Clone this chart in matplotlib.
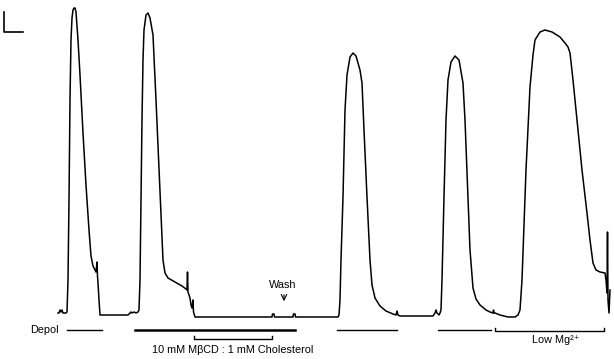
import numpy as np
import matplotlib.pyplot as plt

plt.rcParams['font.family'] = ['Liberation Sans', 'DejaVu Sans']

# ------------------------------------------------------------
# Trace: (time px, signal px from top)
# ------------------------------------------------------------
resp_depol1 = [
    (58, 313), (59, 313), (60, 310), (61, 312), (62, 310), (63, 313), (66, 313), (67, 312),
    (68, 280), (69, 200), (70, 100), (71, 40), (72, 18), (73, 10), (74, 8), (75, 8), (76, 12),
    (78, 40), (80, 75), (83, 133), (86, 185), (89, 230), (91, 256), (93, 266), (95, 270),
    (96, 272), (97, 262), (97.5, 276), (98, 283), (99, 300), (100, 315),
]
resp_depol_mbcd = [
    (128, 315), (130, 313), (131, 312), (132, 313), (134, 312), (136, 313), (138, 312), (139, 310),
    (140, 280), (141, 200), (142, 120), (143, 60), (144, 30), (146, 15), (148, 13), (150, 18),
    (153, 35), (156, 100), (160, 190), (163, 260), (165, 273), (168, 278), (175, 282), (182, 286),
    (186, 289), (187, 290), (187.5, 272), (188, 292), (190, 298), (191, 305), (192, 308),
    (193, 300), (193.5, 312), (195, 317),
]
resp_wash = [
    (272, 317), (272.5, 314), (274, 314), (274.5, 317), (293, 317), (293.5, 314), (295, 314),
    (295.5, 317), (338, 317), (339, 315),
    (340, 300), (341, 260), (343, 197), (345, 110), (347, 75), (350, 57), (353, 53), (356, 56),
    (360, 70), (362, 83), (364, 130), (367, 197), (370, 260), (372, 285), (375, 298), (380, 306),
    (386, 311), (393, 314), (396, 315), (397, 311), (398, 315), (400, 316),
]
resp_depol3 = [
    (433, 316), (435, 313), (436, 310), (437, 313), (439, 315), (440, 313), (441, 310),
    (442, 280), (444, 197), (446, 120), (448, 80), (451, 62), (455, 56), (459, 60), (463, 83),
    (465, 120), (468, 197), (470, 250), (473, 288), (476, 299), (480, 305), (486, 310),
    (490, 312), (493, 313), (493.5, 310), (494, 313), (495, 313),
]
resp_lowmg = [
    (500, 315), (508, 317), (515, 317), (518, 315), (520, 310), (522, 280), (523, 253),
    (526, 170), (530, 87), (533, 55), (535, 40), (540, 32), (545, 30), (552, 32), (560, 37),
    (565, 43), (568, 47), (570, 53), (573, 80), (577, 120), (582, 170), (587, 213), (590, 240),
    (593, 263), (596, 270), (600, 272), (605, 273), (606, 280), (607, 293), (607.5, 232),
    (608, 300), (609, 313), (610, 290),
]

# Application bars under the trace: (x start, x end)
depol_bars = [(67, 102), (337, 397), (438, 491)]
mbcd_bar = (135, 295)
chol_bracket = (194, 272)
lowmg_bracket = (495, 604)

trace = np.array(resp_depol1 + resp_depol_mbcd + resp_wash + resp_depol3 + resp_lowmg)

fig = plt.figure(figsize=(6.14, 3.59), dpi=100)
ax = fig.add_axes([0, 0, 1, 1])
ax.set_xlim(0, 614)
ax.set_ylim(359, 0)
ax.axis('off')

ax.plot(trace[:, 0], trace[:, 1], color='black', lw=1.1, solid_joinstyle='round')

# scale bar
ax.plot([4, 4, 23], [12, 32, 32], color='black', lw=1.2)

for x0, x1 in depol_bars:
    ax.plot([x0, x1], [329.5, 329.5], color='black', lw=1.0)
ax.plot(mbcd_bar, [330, 330], color='black', lw=1.8)
ax.plot([chol_bracket[0], chol_bracket[0], chol_bracket[1], chol_bracket[1]],
        [336, 338.5, 338.5, 336], color='black', lw=1.0)
ax.plot([lowmg_bracket[0], lowmg_bracket[0], lowmg_bracket[1], lowmg_bracket[1]],
        [328, 331, 331, 328], color='black', lw=1.0)

fs = 7.8
ax.text(30, 330, 'Depol', fontsize=fs, va='center', ha='left')
ax.text(152, 350, '10 mM M\u03b2CD : 1 mM Cholesterol', fontsize=fs, va='center', ha='left')
ax.text(283, 285, 'Wash', fontsize=fs, va='center', ha='center')
ax.annotate('', xy=(284, 304), xytext=(284, 292),
            arrowprops=dict(arrowstyle='->', color='black', lw=0.8))
ax.text(532, 340, 'Low Mg\u00b2\u207a', fontsize=fs, va='center', ha='left')

fig.savefig('out.png', dpi=100)
